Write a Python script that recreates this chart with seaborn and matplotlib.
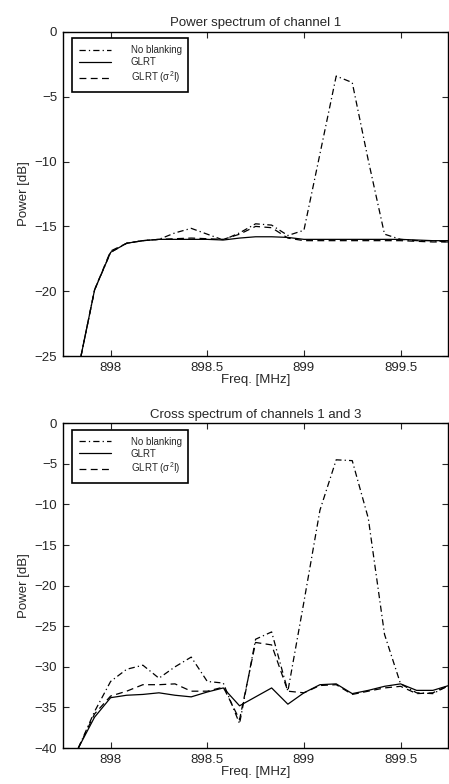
import numpy as np
import pandas as pd
import matplotlib
matplotlib.use("Agg")
import matplotlib.pyplot as plt
import seaborn as sns

# frequency grid (MHz)
freq = [897.833, 897.917, 898.0, 898.083, 898.167, 898.25, 898.333, 898.417,
        898.5, 898.583, 898.667, 898.75, 898.833, 898.917, 899.0, 899.083,
        899.167, 899.25, 899.333, 899.417, 899.5, 899.583, 899.667, 899.75]

# power spectrum of channel 1 [dB]
p1_noblank = [-26.0, -19.9, -17.0, -16.3, -16.1, -16.0, -15.5, -15.15,
              -15.6, -16.05, -15.5, -14.8, -14.9, -15.7, -15.3, -9.4,
              -3.4, -3.9, -9.9, -15.6, -16.0, -16.1, -16.1, -16.2]
p1_glrt = [-26.0, -19.9, -17.0, -16.3, -16.1, -16.0, -16.0, -16.0,
           -16.0, -16.05, -15.9, -15.8, -15.8, -15.85, -16.0, -16.0,
           -16.0, -16.0, -16.0, -16.0, -16.0, -16.05, -16.1, -16.1]
p1_glrt_s2i = [-26.0, -19.9, -16.9, -16.3, -16.1, -16.0, -15.95, -15.9,
               -15.95, -16.0, -15.6, -15.0, -15.1, -15.9, -16.1, -16.1,
               -16.1, -16.1, -16.1, -16.1, -16.1, -16.15, -16.2, -16.2]

# cross spectrum of channels 1 and 3 [dB]
c13_noblank = [-40.0, -35.5, -31.8, -30.3, -29.8, -31.4, -30.0, -28.8,
               -31.8, -32.0, -37.0, -26.6, -25.7, -33.0, -22.0, -10.7,
               -4.5, -4.6, -11.7, -26.0, -32.1, -33.2, -33.3, -32.3]
c13_glrt = [-40.0, -36.2, -33.8, -33.5, -33.4, -33.2, -33.5, -33.7,
            -33.1, -32.6, -34.8, -33.7, -32.6, -34.6, -33.2, -32.2,
            -32.1, -33.3, -32.9, -32.4, -32.1, -32.9, -32.9, -32.3]
c13_glrt_s2i = [-40.0, -35.8, -33.6, -33.0, -32.2, -32.2, -32.1, -33.0,
                -33.0, -32.5, -36.5, -27.0, -27.3, -33.0, -33.2, -32.3,
                -32.2, -33.4, -33.0, -32.6, -32.4, -33.3, -33.2, -32.3]

labels = ["No blanking", "GLRT", "GLRT (σ$^{2}$I)"]
styles = [(0, (5, 2.5, 1, 2.5)), "-", (0, (5.5, 3.5))]

sns.set_style("ticks")
plt.rcParams["font.family"] = ["Liberation Sans", "DejaVu Sans"]
plt.rcParams["mathtext.fontset"] = "custom"
plt.rcParams["mathtext.rm"] = "Liberation Sans"
plt.rcParams["mathtext.it"] = "Liberation Sans"
plt.rcParams["mathtext.default"] = "regular"

fig = plt.figure(figsize=(4.49, 7.84), dpi=100)
ax1 = fig.add_axes([0.1396, 0.5459, 0.858, 0.4133])
ax2 = fig.add_axes([0.1396, 0.0459, 0.858, 0.4142])


def draw(ax, series, title, ylim, yticks):
    for vals, lab, ls in zip(series, labels, styles):
        sns.lineplot(x=freq, y=vals, ax=ax, color="k", linewidth=0.9,
                     linestyle=ls, label=lab, sort=False)
    ax.set_xlim(897.752, 899.745)
    ax.set_ylim(*ylim)
    ax.set_xticks([898, 898.5, 899, 899.5])
    ax.set_xticklabels(["898", "898.5", "899", "899.5"])
    ax.set_yticks(yticks)
    ax.tick_params(direction="in", top=True, right=True, length=4,
                   width=0.8, labelsize=9.5, pad=4)
    for sp in ax.spines.values():
        sp.set_linewidth(1.0)
        sp.set_color("k")
    ax.set_title(title, fontsize=9.5, pad=4)
    ax.set_xlabel("Freq. [MHz]", fontsize=9.5, labelpad=0)
    ax.set_ylabel("Power [dB]", fontsize=9.5, labelpad=3)
    leg = ax.legend(loc="upper left", bbox_to_anchor=(0.025, 0.98),
                    fontsize=7, frameon=True, fancybox=False,
                    handlelength=3.3, handletextpad=2.0, labelspacing=0.2,
                    borderpad=0.7, borderaxespad=0.0)
    leg.get_frame().set_edgecolor("k")
    leg.get_frame().set_linewidth(1.2)
    leg.get_frame().set_alpha(1)


draw(ax1, [p1_noblank, p1_glrt, p1_glrt_s2i], "Power spectrum of channel 1",
     (-25, 0), np.arange(-25, 1, 5))
draw(ax2, [c13_noblank, c13_glrt, c13_glrt_s2i],
     "Cross spectrum of channels 1 and 3", (-40, 0), np.arange(-40, 1, 5))

fig.savefig("out.png", dpi=100)
